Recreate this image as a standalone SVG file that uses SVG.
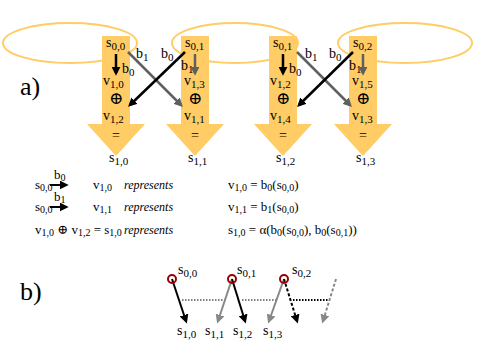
<svg xmlns="http://www.w3.org/2000/svg" width="480" height="360" viewBox="0 0 480 360" font-family="'Liberation Serif', 'DejaVu Serif', serif">
<style>
text{font-family:"Liberation Serif","DejaVu Serif",serif;fill:#000}
.m{font-size:14px}
.s{font-size:11px}
.op{font-size:17px;text-anchor:middle}
.lg{font-size:13px}
.ls{font-size:10px}
.it{font-style:italic;font-size:12px}
.big{font-size:26px}
.body{fill:#FFCC66;stroke:none}
.ell{fill:none;stroke:#FFCC66;stroke-width:2}
.kb{stroke:#000;stroke-width:2.5;fill:none}
.kg{stroke:#606060;stroke-width:2.5;fill:none}
.pb{stroke:#000;stroke-width:2;fill:none}
.pg{stroke:#888;stroke-width:2;fill:none}
.dot{stroke:#000;stroke-width:1.2;stroke-dasharray:1.5 1.5;fill:none}
.ring{fill:none;stroke:#990000;stroke-width:2}
.mid{text-anchor:middle}
</style>
<defs>
<marker id="hb" viewBox="0 0 10 10" refX="7" refY="5" markerWidth="9" markerHeight="9" markerUnits="userSpaceOnUse" orient="auto"><path d="M0,0 L10,5 L0,10 z" fill="#000"/></marker>
<marker id="hg" viewBox="0 0 10 10" refX="7" refY="5" markerWidth="9" markerHeight="9" markerUnits="userSpaceOnUse" orient="auto"><path d="M0,0 L10,5 L0,10 z" fill="#606060"/></marker>
<marker id="hl" viewBox="0 0 10 10" refX="7" refY="5" markerWidth="9" markerHeight="9" markerUnits="userSpaceOnUse" orient="auto"><path d="M0,0 L10,5 L0,10 z" fill="#888"/></marker>
</defs>

<g id="loops">
<ellipse class="ell" cx="70" cy="43" rx="67" ry="20"/>
<ellipse class="ell" cx="235" cy="43" rx="63" ry="20"/>
<ellipse class="ell" cx="405" cy="43" rx="67" ry="20"/>
</g>

<text class="big" x="20" y="95">a)</text>
<text class="big" x="20" y="300">b)</text>

<g id="node-a0">
<path class="body" d="M102,36 H130 V124 H145 L116,156 L87,124 H102 Z"/>
<text class="m" x="106" y="47">s<tspan class="s" dy="3">0,0</tspan></text>
<text class="m" x="122" y="73">b<tspan class="s" dy="3">0</tspan></text>
<text class="m" x="103" y="85">v<tspan class="s" dy="3">1,0</tspan></text>
<text class="op" x="116" y="104">⊕</text>
<text class="m" x="103" y="120">v<tspan class="s" dy="3">1,2</tspan></text>
<text class="m mid" x="116" y="140">=</text>
<text class="m" x="109" y="162">s<tspan class="s" dy="3">1,0</tspan></text>
</g>

<g id="node-a1">
<path class="body" d="M181,36 H209 V124 H224 L195,156 L166,124 H181 Z"/>
<text class="m" x="185" y="47">s<tspan class="s" dy="3">0,1</tspan></text>
<text class="m" x="181" y="70">b<tspan class="s" dy="3">1</tspan></text>
<text class="m" x="184" y="85">v<tspan class="s" dy="3">1,3</tspan></text>
<text class="op" x="195" y="104">⊕</text>
<text class="m" x="184" y="120">v<tspan class="s" dy="3">1,1</tspan></text>
<text class="m mid" x="195" y="140">=</text>
<text class="m" x="188" y="162">s<tspan class="s" dy="3">1,1</tspan></text>
</g>

<g id="node-a2">
<path class="body" d="M269,36 H297 V124 H312 L283,156 L254,124 H269 Z"/>
<text class="m" x="273" y="47">s<tspan class="s" dy="3">0,1</tspan></text>
<text class="m" x="289" y="73">b<tspan class="s" dy="3">0</tspan></text>
<text class="m" x="270" y="85">v<tspan class="s" dy="3">1,2</tspan></text>
<text class="op" x="283" y="104">⊕</text>
<text class="m" x="270" y="120">v<tspan class="s" dy="3">1,4</tspan></text>
<text class="m mid" x="283" y="140">=</text>
<text class="m" x="276" y="162">s<tspan class="s" dy="3">1,2</tspan></text>
</g>

<g id="node-a3">
<path class="body" d="M349,36 H377 V124 H392 L363,156 L334,124 H349 Z"/>
<text class="m" x="353" y="47">s<tspan class="s" dy="3">0,2</tspan></text>
<text class="m" x="349" y="70">b<tspan class="s" dy="3">1</tspan></text>
<text class="m" x="352" y="85">v<tspan class="s" dy="3">1,5</tspan></text>
<text class="op" x="363" y="104">⊕</text>
<text class="m" x="352" y="120">v<tspan class="s" dy="3">1,3</tspan></text>
<text class="m mid" x="363" y="140">=</text>
<text class="m" x="356" y="162">s<tspan class="s" dy="3">1,3</tspan></text>
</g>

<g id="connectors-a">
<line class="kb" x1="116" y1="54" x2="116" y2="73" marker-end="url(#hb)"/>
<line class="kg" x1="195" y1="54" x2="195" y2="73" marker-end="url(#hg)"/>
<line class="kb" x1="283" y1="54" x2="283" y2="73" marker-end="url(#hb)"/>
<line class="kg" x1="363" y1="54" x2="363" y2="73" marker-end="url(#hg)"/>
<line class="kg" x1="128" y1="52" x2="181" y2="105" marker-end="url(#hg)"/>
<line class="kb" x1="185" y1="52" x2="130" y2="105" marker-end="url(#hb)"/>
<line class="kg" x1="297" y1="52" x2="350" y2="105" marker-end="url(#hg)"/>
<line class="kb" x1="353" y1="52" x2="299" y2="105" marker-end="url(#hb)"/>
<text class="m" x="136" y="58">b<tspan class="s" dy="3">1</tspan></text>
<text class="m" x="161" y="58">b<tspan class="s" dy="3">0</tspan></text>
<text class="m" x="305" y="58">b<tspan class="s" dy="3">1</tspan></text>
<text class="m" x="329" y="58">b<tspan class="s" dy="3">0</tspan></text>
</g>

<g id="legend">
<text class="lg" x="35" y="189">s<tspan class="ls" dy="2">0,0</tspan></text>
<line class="pb" x1="50" y1="185" x2="66" y2="185" marker-end="url(#hb)"/>
<text class="lg" x="54" y="179">b<tspan class="ls" dy="2">0</tspan></text>
<text class="lg" x="93" y="189">v<tspan class="ls" dy="2">1,0</tspan></text>
<text class="it" x="124" y="189">represents</text>
<text class="lg" x="228" y="189">v<tspan class="ls" dy="2">1,0</tspan><tspan dy="-2"> = b</tspan><tspan class="ls" dy="2">0</tspan><tspan dy="-2">(s</tspan><tspan class="ls" dy="2">0,0</tspan><tspan dy="-2">)</tspan></text>

<text class="lg" x="35" y="211">s<tspan class="ls" dy="2">0,0</tspan></text>
<line class="pb" x1="50" y1="207" x2="66" y2="207" marker-end="url(#hb)"/>
<text class="lg" x="54" y="201">b<tspan class="ls" dy="2">1</tspan></text>
<text class="lg" x="93" y="211">v<tspan class="ls" dy="2">1,1</tspan></text>
<text class="it" x="124" y="211">represents</text>
<text class="lg" x="228" y="211">v<tspan class="ls" dy="2">1,1</tspan><tspan dy="-2"> = b</tspan><tspan class="ls" dy="2">1</tspan><tspan dy="-2">(s</tspan><tspan class="ls" dy="2">0,0</tspan><tspan dy="-2">)</tspan></text>

<text class="lg" x="35" y="234">v<tspan class="ls" dy="2">1,0</tspan><tspan dy="-2"> ⊕ v</tspan><tspan class="ls" dy="2">1,2</tspan><tspan dy="-2"> = s</tspan><tspan class="ls" dy="2">1,0</tspan></text>
<text class="it" x="124" y="234">represents</text>
<text class="lg" x="228" y="234">s<tspan class="ls" dy="2">1,0</tspan><tspan dy="-2"> = α(b</tspan><tspan class="ls" dy="2">0</tspan><tspan dy="-2">(s</tspan><tspan class="ls" dy="2">0,0</tspan><tspan dy="-2">), b</tspan><tspan class="ls" dy="2">0</tspan><tspan dy="-2">(s</tspan><tspan class="ls" dy="2">0,1</tspan><tspan dy="-2">))</tspan></text>
</g>

<g id="connectors-b">
<line class="dot" x1="182" y1="300" x2="225" y2="300"/>
<line class="dot" x1="242" y1="300" x2="278" y2="300"/>
<line class="dot" x1="293" y1="300" x2="328" y2="300" style="stroke-width:2"/>
<line class="pb" x1="172" y1="279" x2="186" y2="321" marker-end="url(#hb)"/>
<line class="pg" x1="232" y1="279" x2="218" y2="321" marker-end="url(#hl)"/>
<line class="pb" x1="232" y1="279" x2="245" y2="321" marker-end="url(#hb)"/>
<line class="pg" x1="284" y1="279" x2="269" y2="321" marker-end="url(#hl)"/>
<line class="pb" x1="284" y1="279" x2="297" y2="321" marker-end="url(#hb)" stroke-dasharray="3 2"/>
<line class="pg" x1="336" y1="279" x2="323" y2="321" marker-end="url(#hl)" stroke-dasharray="3 2"/>
</g>

<g id="node-b0">
<circle class="ring" cx="172" cy="279" r="4"/>
<text class="m" x="178" y="274">s<tspan class="s" dy="3">0,0</tspan></text>
</g>
<g id="node-b1">
<circle class="ring" cx="232" cy="279" r="4"/>
<text class="m" x="237" y="274">s<tspan class="s" dy="3">0,1</tspan></text>
</g>
<g id="node-b2">
<circle class="ring" cx="284" cy="279" r="4"/>
<text class="m" x="292" y="274">s<tspan class="s" dy="3">0,2</tspan></text>
</g>
<g id="labels-b">
<text class="m" x="177" y="335">s<tspan class="s" dy="3">1,0</tspan></text>
<text class="m" x="205" y="335">s<tspan class="s" dy="3">1,1</tspan></text>
<text class="m" x="233" y="335">s<tspan class="s" dy="3">1,2</tspan></text>
<text class="m" x="263" y="335">s<tspan class="s" dy="3">1,3</tspan></text>
</g>
</svg>
